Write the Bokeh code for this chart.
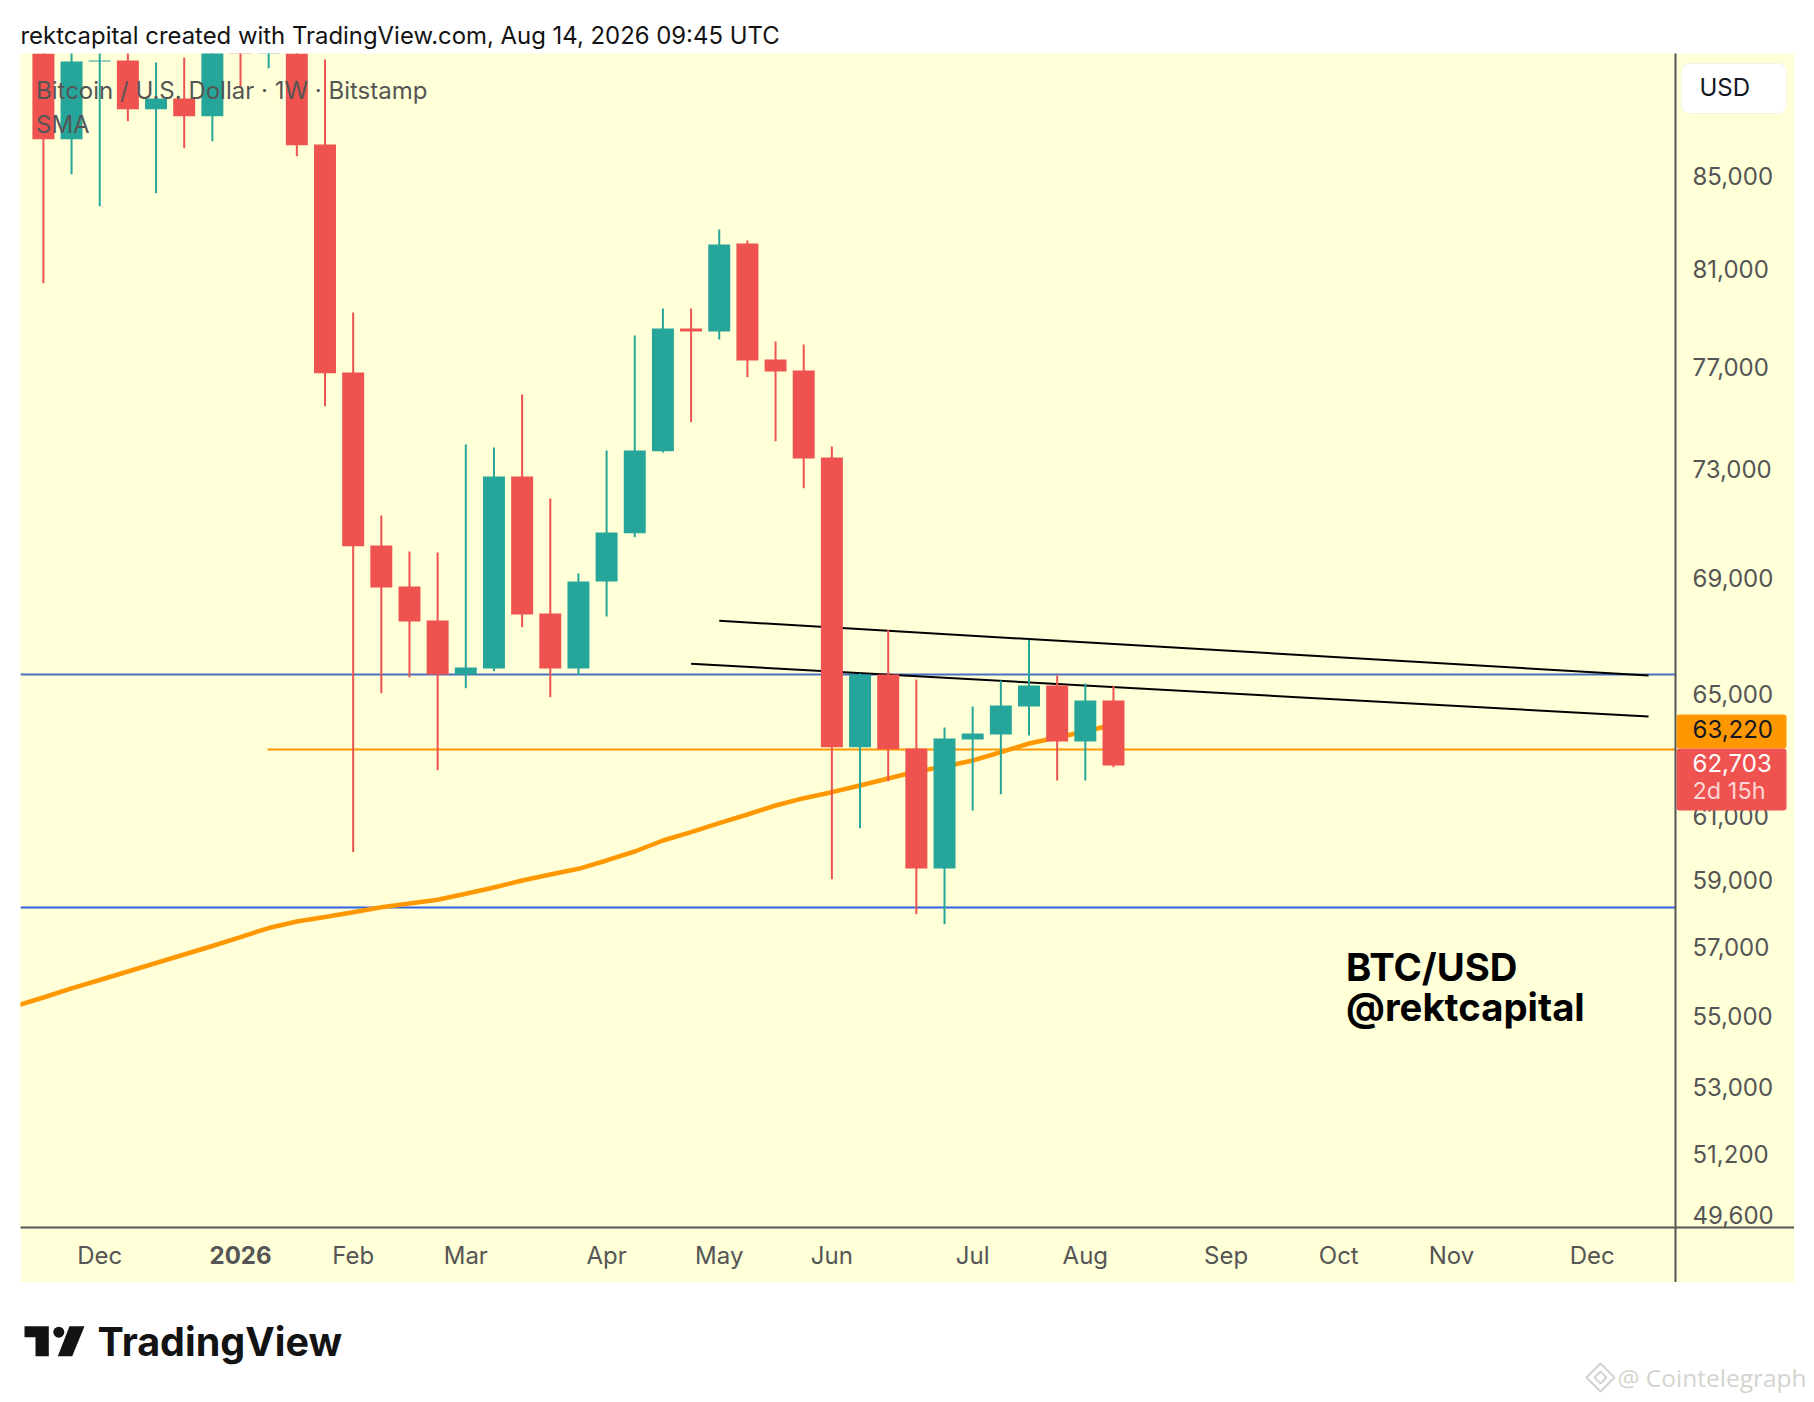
from math import exp
from bokeh.plotting import figure
from bokeh.models import ColumnDataSource, Range1d, FixedTicker, NumeralTickFormatter, LogAxis, LogScale
from bokeh.layouts import column
from bokeh.embed import file_html
from bokeh.resources import INLINE
from bokeh.core.properties import value

# weekly candles, Bitstamp BTC/USD (first ones run above the visible window)
opens  = [91290, 86736, 90300, 90350, 88095, 88590, 87775, 94000, 91500, 92000,
          86500, 76860, 70270, 68795, 67594, 65728, 65933, 72829, 67839, 65933,
          68973, 70721, 73790, 78634, 78512, 82175, 77381, 76941, 73550, 63298,
          65728, 63256, 59442, 63551, 63716, 64647, 65355, 63486, 64848]
highs  = [93500, 91050, 91500, 91800, 90250, 90490, 92500, 95000, 93500, 93500,
          90395, 79290, 71370, 70053, 70017, 74048, 73932, 75992, 72004, 69260,
          73817, 78349, 79451, 79451, 82773, 82303, 78106, 77984, 73970, 65762,
          67268, 65558, 63948, 64647, 65524, 66921, 65694, 65423, 65345]
lows   = [80500, 85176, 83780, 87550, 84345, 86330, 86645, 89095, 89990, 85975,
          75530, 59950, 65095, 65636, 62548, 65263, 65840, 67359, 64960, 65718,
          67733, 70574, 73740, 74908, 78187, 76674, 74173, 72389, 59114, 60696,
          62193, 58051, 57751, 61255, 61775, 63683, 62215, 62215, 62646]
closes = [86736, 90300, 90350, 88095, 88590, 87775, 91500, 91500, 93000, 86470,
          76830, 70245, 68760, 67558, 65728, 65967, 72829, 67803, 65933, 68973,
          70747, 73817, 78634, 78512, 82132, 77341, 76901, 73512, 63298, 65728,
          63233, 59442, 63584, 63749, 64681, 65355, 63486, 64848, 62703]
sma_index = list(range(-1, 39))
sma = [55355, 55599, 55860, 56106, 56353, 56602, 56852, 57103, 57369, 57637,
       57832, 57967, 58111, 58262, 58374, 58486, 58668, 58861, 59074, 59258,
       59433, 59690, 59968, 60311, 60571, 60854, 61129, 61415, 61648, 61840,
       62055, 62280, 62507, 62668, 62863, 63135, 63420, 63617, 63816, 64047]
level_high = 65728
level_low = 58253
level_sma = 63220
last_close = 62703
trend_upper_x, trend_upper_y = [24, 57], [67582, 65694]
trend_lower_x, trend_lower_y = [23, 57], [66093, 64314]
price_ticks = [85000, 81000, 77000, 73000, 69000, 65000, 61000, 59000, 57000,
               55000, 53000, 51200, 49600]
month_ticks = {2: "Dec", 11: "Feb", 15: "Mar", 20: "Apr", 24: "May", 28: "Jun",
               33: "Jul", 37: "Aug", 42: "Sep", 46: "Oct", 50: "Nov", 55: "Dec"}
year_tick = 7
year_label = "2026"

RED, TEAL, ORANGE = "#EF5350", "#26A69A", "#FF9800"
PANEL, GREY = "#FFFFD8", "#555555"
FONT = "Inter"

def X(px):
    return (px - 42.9) / 28.16

def Y(py):
    return 65000 * exp((695.5 - py) / 1930)

# ---- header
head = figure(width=1798, height=45, x_range=(8, 1806), y_range=(53, 8),
              output_backend="svg", toolbar_location=None, min_border=0, frame_align=False)
head.axis.visible = False
head.grid.visible = False
head.outline_line_color = None
head.text([20], [35], text=["rektcapital created with TradingView.com, Aug 14, 2026 09:45 UTC"],
          text_font=value(FONT), text_font_size="23.9px", text_color="#131313",
          text_baseline="middle", text_align="left")

# ---- chart
p = figure(width=1774, height=1229, y_axis_type="log", y_axis_location=None,
           x_range=Range1d(X(20), X(1675)), y_range=Range1d(Y(1227), Y(53)),
           output_backend="svg", toolbar_location=None, background_fill_color=PANEL,
           border_fill_color=PANEL, min_border_left=0, min_border_top=0,
           min_border_right=119, min_border_bottom=55, margin=(0, 0, 0, 12), frame_align=False)
p.grid.visible = False
p.outline_line_color = None

# price axis on a range nudged so that its labels sit a little above their level, as in the source
p.extra_y_ranges = {"labels": Range1d(Y(1229.5), Y(55.5))}
p.extra_y_scales = {"labels": LogScale()}
price_axis = LogAxis(y_range_name="labels", ticker=FixedTicker(ticks=price_ticks),
                     formatter=NumeralTickFormatter(format="0,0"))
p.add_layout(price_axis, "right")

p.xaxis.ticker = FixedTicker(ticks=sorted(list(month_ticks) + [year_tick]))
p.xaxis.major_label_overrides = {**month_ticks, year_tick: ""}
for ax in (p.xaxis[0], price_axis):
    ax.axis_line_color = GREY
    ax.axis_line_width = 2
    ax.major_tick_line_color = None
    ax.minor_tick_line_color = None
    ax.major_label_text_font = FONT
    ax.major_label_text_font_size = "24px"
    ax.major_label_text_color = GREY
p.xaxis.major_label_standoff = 7
price_axis.major_label_standoff = 11

# lines behind the candles
xr = [X(20), X(1675)]
p.line(xr, [level_high, level_high], line_color="#4A6FC0", line_width=2)
p.line(xr, [level_low, level_low], line_color="#2F62DE", line_width=2)
p.line([X(267), X(1675)], [level_sma, level_sma], line_color=ORANGE, line_width=2)
p.line(sma_index, sma, line_color=ORANGE, line_width=4.5)
p.line(trend_upper_x, trend_upper_y, line_color="#000000", line_width=2)
p.line(trend_lower_x, trend_lower_y, line_color="#000000", line_width=2)

idx = list(range(len(opens)))
colors = [TEAL if c > o else RED for o, c in zip(opens, closes)]
src = ColumnDataSource(dict(i=idx, o=opens, h=highs, l=lows, c=closes, color=colors))
p.segment("i", "l", "i", "h", source=src, line_color="color", line_width=2)
p.vbar("i", 0.78, "o", "c", source=src, fill_color="color", line_color=None)

# pane legend
p.text([X(35.5)], [Y(90)], text=["Bitcoin / U.S. Dollar · 1W · Bitstamp"], text_font=value(FONT),
       text_font_size="24px", text_color=GREY, text_baseline="middle")
p.text([X(35.5)], [Y(124)], text=["SMA"], text_font=value(FONT),
       text_font_size="24px", text_color=GREY, text_baseline="middle")

# drawn note
p.text([X(1345.5), X(1345.5)], [Y(966), Y(1006)], text=["BTC/USD", "@rektcapital"],
       text_font=value(FONT), text_font_size="38.3px", text_font_style="bold",
       text_color="#000000", text_baseline="middle")

# axis extensions (glyphs on a level above the frame clip)
p.line([X(1675), X(1794)], [Y(1227), Y(1227)], line_color=GREY, line_width=2, level="annotation")
p.line([X(1675), X(1675)], [Y(1227), Y(1282)], line_color=GREY, line_width=2, level="annotation")

# bold year label on the time axis
p.text([year_tick], [Y(1254)], text=[year_label], text_font=value(FONT), text_font_size="24px",
       text_font_style="bold", text_color=GREY, text_align="center", text_baseline="middle",
       level="overlay")

# currency button and price tags
p.quad(left=[X(1681)], right=[X(1786)], top=[Y(63)], bottom=[Y(113)], fill_color="#FFFFFF",
       line_color="#F4F4E4", border_radius=8, level="annotation")
p.text([X(1699)], [Y(87)], text=["USD"], text_font=value(FONT), text_font_size="24px",
       text_color="#131722", text_baseline="middle", level="overlay")
p.quad(left=[X(1676)], right=[X(1786)], top=[Y(714)], bottom=[Y(748)], fill_color=ORANGE,
       line_color=None, border_radius=3, level="annotation")
p.quad(left=[X(1676)], right=[X(1786)], top=[Y(748)], bottom=[Y(810)], fill_color=RED,
       line_color=None, border_radius=3, level="annotation")
p.text([X(1692)], [Y(728)], text=[f"{level_sma:,}"], text_font=value(FONT), text_font_size="24px",
       text_color="#131722", text_baseline="middle", level="overlay")
p.text([X(1692)], [Y(762)], text=[f"{last_close:,}"], text_font=value(FONT), text_font_size="24px",
       text_color="#FFFFFF", text_baseline="middle", level="overlay")
p.text([X(1692)], [Y(790)], text=["2d 15h"], text_font=value(FONT), text_font_size="23.5px",
       text_color="#FBD5D5", text_baseline="middle", level="overlay")

# ---- footer
foot = figure(width=1805, height=112, x_range=(8, 1813), y_range=(1394, 1282),
              output_backend="svg", toolbar_location=None, min_border=0, frame_align=False)
foot.axis.visible = False
foot.grid.visible = False
foot.outline_line_color = None
DARK = "#131313"
foot.patch([24, 48.3, 48.3, 35, 35, 24], [1325.7, 1325.7, 1355.7, 1355.7, 1336.7, 1336.7],
           fill_color=DARK, line_color=None)
foot.patch([69, 84, 71.7, 57.3], [1325.7, 1325.7, 1355.7, 1355.7], fill_color=DARK, line_color=None)
foot.circle([58.3], [1331.7], radius=5.5, fill_color=DARK, line_color=None)
foot.text([97], [1341], text=["TradingView"], text_font=value(FONT), text_font_size="39.5px",
          text_font_style="bold", text_color=DARK, text_baseline="middle")
WM = "#D4D4CE"
foot.patch([1600, 1614, 1600, 1586], [1363, 1377, 1391, 1377], fill_color=None, line_color=WM, line_width=2)
foot.patch([1600, 1606, 1600, 1594], [1371, 1377, 1383, 1377], fill_color=None, line_color=WM, line_width=2)
foot.text([1617], [1377], text=["@ Cointelegraph"], text_font=value("Open Sans"), text_font_size="24.5px",
          text_color=WM, text_baseline="middle")

page = column(head, p, foot, spacing=0, margin=(8, 0, 0, 8))
open("out.html", "w").write(file_html(page, INLINE))
